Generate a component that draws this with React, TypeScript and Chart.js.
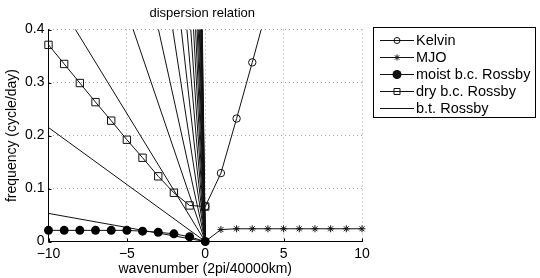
import React, { useEffect, useRef } from "react";
import { Chart, registerables } from "chart.js";

Chart.register(...registerables);

// ---- data ----
const kelvinK = [0, 1, 2, 3, 4, 5];
const kelvinFreq = [0.066, 0.129, 0.232, 0.338, 0.447, 0.556];

const mjoK = [0, 1, 2, 3, 4, 5, 6, 7, 8, 9, 10];
const mjoFreq = [0, 0.0225, 0.024, 0.024, 0.024, 0.024, 0.024, 0.024, 0.024, 0.024, 0.024];

const rossbyK = [-10, -9, -8, -7, -6, -5, -4, -3, -2, -1, 0];
const moistFreq = [0.021, 0.021, 0.021, 0.021, 0.021, 0.021, 0.0195, 0.0175, 0.0145, 0.009, 0];
const dryFreq = [0.371, 0.335, 0.299, 0.263, 0.228, 0.192, 0.158, 0.123, 0.092, 0.068, 0.066];

// barotropic Rossby: straight lines from k=-10 to the origin; value at k=-10
const btK = [-10, 0];
const btFreqStart = [0.053, 0.215, 0.483, 0.87, 1.34, 1.93, 2.62, 3.42, 4.33, 5.35, 6.47, 7.7, 9.04, 10.5, 12.0, 13.7, 15.5, 17.3, 19.3, 21.4];

const xTicks = [-10, -5, 0, 5, 10];
const yTicks = [0, 0.1, 0.2, 0.3, 0.4];

const titleText = "dispersion relation";
const xTitle = "wavenumber (2pi/40000km)";
const yTitle = "frequency (cycle/day)";
const legendLabels = ["Kelvin", "MJO", "moist b.c. Rossby", "dry b.c. Rossby", "b.t. Rossby"];

const FONT = "'Liberation Sans', Arial, Helvetica, sans-serif";
const LINE = "#111";

function pts(xs: number[], ys: number[]) {
  return xs.map((x, i) => ({ x, y: ys[i] }));
}

const titlePlugin = {
  id: "matlabTitle",
  afterDraw(chart: any) {
    const { ctx, chartArea } = chart;
    ctx.save();
    ctx.fillStyle = "#000";
    ctx.font = `13px ${FONT}`;
    ctx.textAlign = "center";
    ctx.textBaseline = "middle";
    ctx.fillText(titleText, (chartArea.left + chartArea.right) / 2 - 3, 13);
    ctx.restore();
  },
};

const inwardTicksPlugin = {
  id: "inwardTicks",
  afterDraw(chart: any) {
    const { ctx, chartArea, scales } = chart;
    ctx.save();
    ctx.strokeStyle = "#000";
    ctx.lineWidth = 1;
    ctx.beginPath();
    xTicks.forEach((v) => {
      const x = Math.round(scales.x.getPixelForValue(v)) + 0.5;
      ctx.moveTo(x, chartArea.bottom);
      ctx.lineTo(x, chartArea.bottom - 3);
    });
    yTicks.forEach((v) => {
      const y = Math.round(scales.y.getPixelForValue(v)) + 0.5;
      ctx.moveTo(chartArea.left, y);
      ctx.lineTo(chartArea.left + 3, y);
    });
    ctx.stroke();
    ctx.restore();
  },
};

function drawMarker(ctx: CanvasRenderingContext2D, kind: string, x: number, y: number) {
  ctx.save();
  ctx.strokeStyle = LINE;
  ctx.fillStyle = LINE;
  ctx.lineWidth = 1;
  ctx.beginPath();
  if (kind === "circle") {
    ctx.arc(x, y, 3, 0, Math.PI * 2);
    ctx.stroke();
  } else if (kind === "dot") {
    ctx.arc(x, y, 4.5, 0, Math.PI * 2);
    ctx.fill();
  } else if (kind === "square") {
    ctx.rect(x - 3, y - 3, 6, 6);
    ctx.stroke();
  } else if (kind === "star") {
    const r = 3;
    ctx.moveTo(x - r, y); ctx.lineTo(x + r, y);
    ctx.moveTo(x, y - r); ctx.lineTo(x, y + r);
    const d = r * 0.707;
    ctx.moveTo(x - d, y - d); ctx.lineTo(x + d, y + d);
    ctx.moveTo(x - d, y + d); ctx.lineTo(x + d, y - d);
    ctx.stroke();
  }
  ctx.restore();
}

const legendPlugin = {
  id: "matlabLegend",
  afterDraw(chart: any) {
    const { ctx } = chart;
    const box = { x: 373.5, y: 27.5, w: 162, h: 90 };
    ctx.save();
    ctx.fillStyle = "#fff";
    ctx.fillRect(box.x, box.y, box.w, box.h);
    ctx.strokeStyle = "#000";
    ctx.lineWidth = 1;
    ctx.strokeRect(box.x, box.y, box.w, box.h);
    const markers = ["circle", "star", "dot", "square", "none"];
    legendLabels.forEach((label, i) => {
      const cy = 40 + i * 17.1;
      ctx.strokeStyle = LINE;
      ctx.lineWidth = 1;
      ctx.beginPath();
      ctx.moveTo(380, Math.round(cy) + 0.5);
      ctx.lineTo(414, Math.round(cy) + 0.5);
      ctx.stroke();
      if (markers[i] !== "none") drawMarker(ctx, markers[i], 397, Math.round(cy) + 0.5);
      ctx.fillStyle = "#000";
      ctx.font = `14.5px ${FONT}`;
      ctx.textAlign = "left";
      ctx.textBaseline = "middle";
      ctx.fillText(label, 416, cy + 0.5);
    });
    ctx.restore();
  },
};

export default function App() {
  const canvasRef = useRef<HTMLCanvasElement | null>(null);

  useEffect(() => {
    const canvas = canvasRef.current;
    if (!canvas) return;

    const btDatasets = btFreqStart.map((v) => ({
      label: "b.t. Rossby",
      data: pts(btK, [v, 0]),
      borderColor: LINE,
      borderWidth: 1,
      pointRadius: 0,
      showLine: true,
      clip: 0,
    }));

    const chart = new Chart(canvas, {
      type: "scatter",
      data: {
        datasets: [
          {
            label: "moist b.c. Rossby",
            data: pts(rossbyK, moistFreq),
            borderColor: LINE,
            borderWidth: 1,
            showLine: true,
            pointStyle: "circle",
            pointRadius: 4.5,
            pointBackgroundColor: "#000",
            pointBorderColor: "#000",
            pointBorderWidth: 0,
            clip: false,
          },
          {
            label: "Kelvin",
            data: pts(kelvinK, kelvinFreq),
            borderColor: LINE,
            borderWidth: 1,
            showLine: true,
            pointStyle: "circle",
            pointRadius: 3.7,
            pointBackgroundColor: "rgba(0,0,0,0)",
            pointBorderColor: LINE,
            pointBorderWidth: 1,
            clip: 0,
          },
          {
            label: "dry b.c. Rossby",
            data: pts(rossbyK, dryFreq),
            borderColor: LINE,
            borderWidth: 1,
            showLine: true,
            pointStyle: "rect",
            pointRadius: 5.2,
            pointBackgroundColor: "rgba(0,0,0,0)",
            pointBorderColor: LINE,
            pointBorderWidth: 1,
            clip: false,
          },
          {
            label: "MJO",
            data: pts(mjoK, mjoFreq),
            borderColor: LINE,
            borderWidth: 1,
            showLine: true,
            pointStyle: "star",
            pointRadius: 3.5,
            pointBorderColor: LINE,
            pointBorderWidth: 1,
            clip: false,
          },
          ...btDatasets,
        ],
      },
      options: {
        animation: false,
        responsive: false,
        devicePixelRatio: 1,
        events: [],
        layout: { padding: { top: 29.5, right: 178, bottom: 0, left: 0 } },
        plugins: {
          legend: { display: false },
          title: { display: false },
          tooltip: { enabled: false },
        },
        scales: {
          x: {
            type: "linear",
            min: -10,
            max: 10,
            afterBuildTicks: (s: any) => {
              s.ticks = xTicks.map((v) => ({ value: v }));
            },
            afterFit: (s: any) => {
              s.height = 36.5;
            },
            ticks: {
              color: "#000",
              font: { family: FONT, size: 14 },
              padding: 4,
              autoSkip: false,
              maxRotation: 0,
              callback: (v: any) => String(v).replace("-", "\u2212"),
            },
            grid: { color: "rgba(0,0,0,0.35)", lineWidth: 1, drawTicks: false },
            border: { display: true, color: "#000", width: 1, dash: [1, 3] },
            title: {
              display: true,
              text: xTitle,
              color: "#000",
              font: { family: FONT, size: 14 },
              padding: { top: 4.6, bottom: 0 },
            },
          },
          y: {
            type: "linear",
            min: 0,
            max: 0.4,
            afterBuildTicks: (s: any) => {
              s.ticks = yTicks.map((v) => ({ value: v }));
            },
            afterFit: (s: any) => {
              s.width = 48.5;
            },
            ticks: {
              color: "#000",
              font: { family: FONT, size: 14 },
              padding: 4,
              autoSkip: false,
              callback: (v: any) => (v === 0 ? "0" : Number(v).toFixed(1)),
            },
            grid: { color: "rgba(0,0,0,0.35)", lineWidth: 1, drawTicks: false },
            border: { display: true, color: "#000", width: 1, dash: [1, 3] },
            title: {
              display: true,
              text: yTitle,
              color: "#000",
              font: { family: FONT, size: 14 },
              padding: { top: 4, bottom: 0 },
            },
          },
        },
      },
      plugins: [titlePlugin, inwardTicksPlugin, legendPlugin],
    } as any);

    return () => chart.destroy();
  }, []);

  return (
    <div style={{ position: "fixed", left: 0, top: 0, width: 540, height: 278, background: "#fff" }}>
      <canvas ref={canvasRef} width={540} height={278} style={{ width: 540, height: 278, display: "block" }} />
    </div>
  );
}
